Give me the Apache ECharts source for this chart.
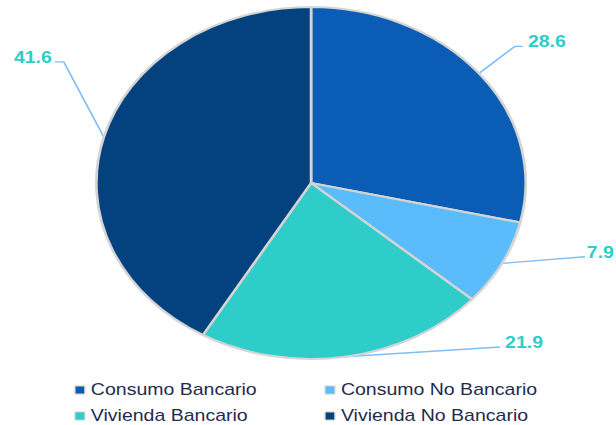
<!DOCTYPE html>
<html>
<head>
<meta charset="utf-8">
<script src="https://cdn.jsdelivr.net/npm/echarts@6/dist/echarts.min.js"></script>
<style>
  html, body { margin: 0; padding: 0; background: #ffffff; overflow: hidden; }
  #wrap { width: 616px; height: 425px; overflow: hidden; position: relative; }
  #chart { width: 505px; height: 425px; position: absolute; left: 0; top: 0;
           transform: scaleX(1.2198); transform-origin: 0 0; }
</style>
</head>
<body>
<div id="wrap"><div id="chart"></div></div>
<script>
// ---- data ----
const categories = ['Consumo Bancario', 'Consumo No Bancario', 'Vivienda Bancario', 'Vivienda No Bancario'];
const values = [28.6, 7.9, 21.9, 41.6];

// ---- styles ----
const colors = ['#0a5cb4', '#5bbcfc', '#2ecdca', '#04427f'];
const labelColor = '#2ecdca';
const lineColor = '#80bdf7';
const textColor = '#1f2b4d';
// leader line shape relative to the slice edge point computed by the library
const leader = [
  { elbow: [29.4, -27], end: [36.1, -27], tx: 4, ty: -5, align: 'left' },
  { elbow: [68, -6.7], end: [68, -6.7], tx: 1.5, ty: -4, align: 'left' },
  { elbow: [127, -9.7], end: [127, -9.7], tx: 4, ty: -4, align: 'left' },
  { elbow: [-32.8, -75.2], end: [-40.2, -75.2], tx: -2.4, ty: -4, align: 'right' }
];

const chart = echarts.init(document.getElementById('chart'), null, { renderer: 'svg' });

const pieData = categories.map((name, i) => ({
  name: name,
  value: values[i],
  itemStyle: { color: colors[i] }
}));

const legendCommon = {
  orient: 'vertical',
  top: 382,
  padding: 0,
  itemGap: 10,
  itemWidth: 8,
  itemHeight: 8,
  icon: 'rect',
  selectedMode: false,
  itemStyle: { borderColor: '#d0d0d0', borderWidth: 1 },
  textStyle: { fontFamily: 'Liberation Sans, Arial, sans-serif', fontSize: 16, lineHeight: 16, color: textColor }
};

chart.setOption({
  animation: false,
  backgroundColor: '#ffffff',
  legend: [
    Object.assign({}, legendCommon, { left: 61, data: [categories[0], categories[2]] }),
    Object.assign({}, legendCommon, { left: 266, data: [categories[1], categories[3]] })
  ],
  series: [{
    type: 'pie',
    center: [255, 183],
    radius: 176,
    startAngle: 90,
    clockwise: true,
    avoidLabelOverlap: false,
    data: pieData,
    itemStyle: { borderColor: '#d4d4d4', borderWidth: 2.2 },
    label: {
      show: true,
      position: 'outside',
      formatter: p => p.value.toFixed(1),
      color: labelColor,
      fontFamily: 'Liberation Sans, Arial, sans-serif',
      fontWeight: 'bold',
      fontSize: 16
    },
    labelLine: {
      show: true,
      length: 20,
      length2: 10,
      lineStyle: { color: lineColor, width: 1.4 }
    },
    labelLayout: function (params) {
      const pts = params.labelLinePoints;
      const cfg = leader[params.dataIndex];
      if (!pts || !cfg) return {};
      const s = pts[0];
      const e1 = [s[0] + cfg.elbow[0], s[1] + cfg.elbow[1]];
      const e2 = [s[0] + cfg.end[0], s[1] + cfg.end[1]];
      return {
        x: e2[0] + cfg.tx,
        y: e2[1] + cfg.ty,
        align: cfg.align,
        verticalAlign: 'middle',
        labelLinePoints: [[s[0], s[1]], e1, e2]
      };
    },
    emphasis: { disabled: true }
  }]
});
</script>
</body>
</html>
